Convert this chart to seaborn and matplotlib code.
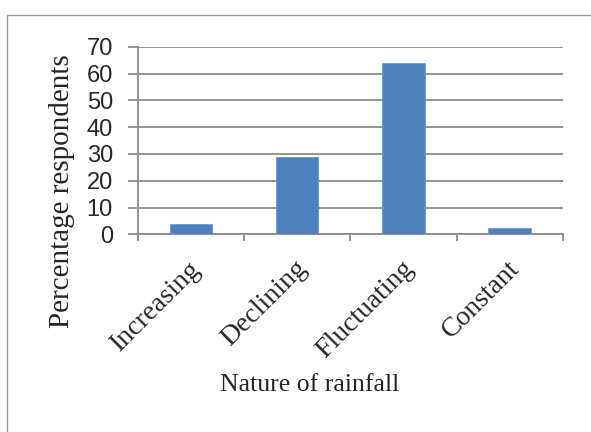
import matplotlib
matplotlib.use("Agg")
import matplotlib.pyplot as plt
import matplotlib.patches as mpatches
import matplotlib.transforms as mtransforms
import seaborn as sns
import pandas as pd

categories = ["Increasing", "Declining", "Fluctuating", "Constant"]
percentages = [4, 29, 64, 2.5]
y_ticks = [0, 10, 20, 30, 40, 50, 60, 70]

sns.set_theme(style="white")
plt.rcParams["font.family"] = ["Liberation Serif", "DejaVu Serif"]

df = pd.DataFrame({"Nature of rainfall": categories,
                   "Percentage respondents": percentages})

fig = plt.figure(figsize=(5.91, 4.32), dpi=100)
fig.patch.set_facecolor("white")

# outer chart frame (only top and left edges visible in the canvas)
frame = mpatches.Rectangle((7 / 591, -0.2), 1.2, 1 - 15 / 432 + 0.2,
                           transform=fig.transFigure, fill=False,
                           edgecolor="#9a9a9a", linewidth=1.0)
fig.patches.append(frame)

ax = fig.add_axes([138 / 591, 1 - 234.3 / 432, 424.7 / 591, 187.6 / 432])
sns.barplot(data=df, x="Nature of rainfall", y="Percentage respondents",
            color="#4F81BD", saturation=1, width=0.4, ax=ax,
            edgecolor="#6f9bd0", linewidth=0.6, zorder=3)

grid_color = "#8a8a8a"
ax.set_xlim(-0.5, len(categories) - 0.5)
ax.set_ylim(0, 70)
ax.set_yticks(y_ticks)
ax.set_yticklabels([str(v) for v in y_ticks], family="Liberation Sans",
                   fontsize=17)
ax.yaxis.grid(True, color=grid_color, linewidth=1.3, zorder=0)
ax.set_axisbelow(True)

for side in ("top", "right"):
    ax.spines[side].set_visible(False)
for side in ("left", "bottom"):
    ax.spines[side].set_color(grid_color)
    ax.spines[side].set_linewidth(1.3)

ax.tick_params(axis="y", which="major", direction="out", length=7,
               width=1.3, color=grid_color, pad=11, left=True)

# category boundary ticks on the x axis
ax.set_xticks([i - 0.5 for i in range(len(categories) + 1)], minor=True)
ax.tick_params(axis="x", which="minor", direction="out", length=5,
               width=1.3, color=grid_color, bottom=True)
ax.tick_params(axis="x", which="major", length=0, pad=22)
ax.set_xticks(range(len(categories)))
ax.set_xticklabels(categories, rotation=45, ha="right", va="center",
                   rotation_mode="anchor", fontsize=20)

# nudge the slanted category labels slightly to the right
shift = mtransforms.ScaledTranslation(6 / 100, 0, fig.dpi_scale_trans)
for lbl in ax.get_xticklabels():
    lbl.set_transform(lbl.get_transform() + shift)

ax.set_xlabel("Nature of rainfall", fontsize=18.5, va="center", ha="center")
ax.xaxis.set_label_coords(0.405, -0.803)
ax.set_ylabel("Percentage respondents", fontsize=21, va="center",
              ha="center")
ax.yaxis.set_label_coords(-0.179, 0.23)

fig.savefig("out.png", dpi=100, facecolor="white")
